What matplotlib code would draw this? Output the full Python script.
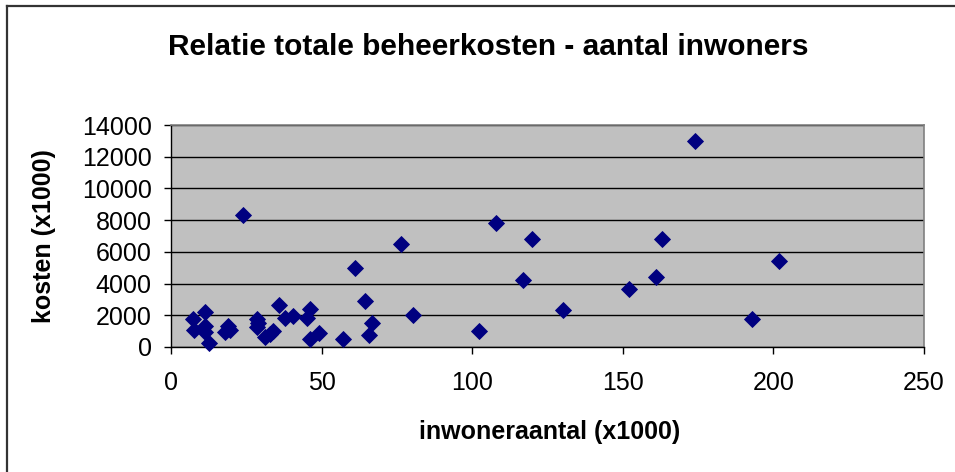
import matplotlib
matplotlib.use("Agg")
import matplotlib.pyplot as plt
from matplotlib.lines import Line2D

# Data (x1000)
inwoners = [174, 24, 108, 120, 163, 76.5, 202, 61, 117, 161, 152, 36, 64.5, 130,
            11.3, 46, 80.5, 193, 7.3, 28.5, 38, 40.6, 45, 66.6, 29, 28.5, 7.8,
            11.3, 11.4, 12.6, 19, 17.8, 19.6, 31.2, 32.8, 34, 46, 49.2, 57.2,
            65.9, 102.3]
kosten = [13000, 8300, 7800, 6800, 6800, 6500, 5400, 5000, 4250, 4400, 3650, 2620,
          2870, 2350, 2230, 2400, 2000, 1750, 1790, 1790, 1860, 1950, 1860, 1540,
          1540, 1240, 1100, 1300, 960, 270, 1300, 930, 1100, 650, 820, 1030, 480,
          880, 480, 760, 990]
x_ticks = [0, 50, 100, 150, 200, 250]
y_ticks = [0, 2000, 4000, 6000, 8000, 10000, 12000, 14000]

title = "Relatie totale beheerkosten - aantal inwoners"
xlabel = "inwoneraantal (x1000)"
ylabel = "kosten (x1000)"

plt.rcParams['font.family'] = ['Liberation Sans', 'DejaVu Sans']

W, H = 955, 472
fig = plt.figure(figsize=(W / 100, H / 100), dpi=100)
fig.patch.set_facecolor('white')

L, R, T, B = 171, 924, 125, 347
ax = fig.add_axes([L / W, 1 - B / H, (R - L) / W, (B - T) / H])
ax.set_facecolor('#C0C0C0')
ax.set_xlim(0, 250)
ax.set_ylim(0, 14000)
ax.set_xticks(x_ticks)
ax.set_yticks(y_ticks)
ax.yaxis.grid(True, color='black', linewidth=1.0)
ax.set_axisbelow(True)

for s in ['top', 'right']:
    ax.spines[s].set_color('#808080')
    ax.spines[s].set_linewidth(1.2)
for s in ['left', 'bottom']:
    ax.spines[s].set_color('black')
    ax.spines[s].set_linewidth(1.0)

ax.tick_params(axis='both', direction='out', length=5, width=1, colors='black',
               labelsize=18)
ax.tick_params(axis='y', pad=9)
ax.tick_params(axis='x', pad=12)

ax.plot(inwoners, kosten, linestyle='none', marker='D', markersize=7.8,
        markerfacecolor='#000080', markeredgecolor='#000080', markeredgewidth=0.6,
        clip_on=False, zorder=3)

fig.text(488 / W, 1 - 55 / H, title, ha='center', va='baseline',
         fontsize=21.5, fontweight='bold')
fig.text(550 / W, 1 - 432 / H, xlabel, ha='center', va='center',
         fontsize=18, fontweight='bold')
fig.text(44 / W, 1 - 236 / H, ylabel, ha='center', va='center', rotation=90,
         fontsize=18, fontweight='bold')

# outer chart border (left and top visible)
fig.add_artist(Line2D([7 / W, 7 / W], [0, 1 - 6 / H], transform=fig.transFigure,
                      color='#333333', linewidth=1.6))
fig.add_artist(Line2D([7 / W, 1], [1 - 6 / H, 1 - 6 / H], transform=fig.transFigure,
                      color='#333333', linewidth=1.6))

fig.savefig('out.png', dpi=100, facecolor='white')
